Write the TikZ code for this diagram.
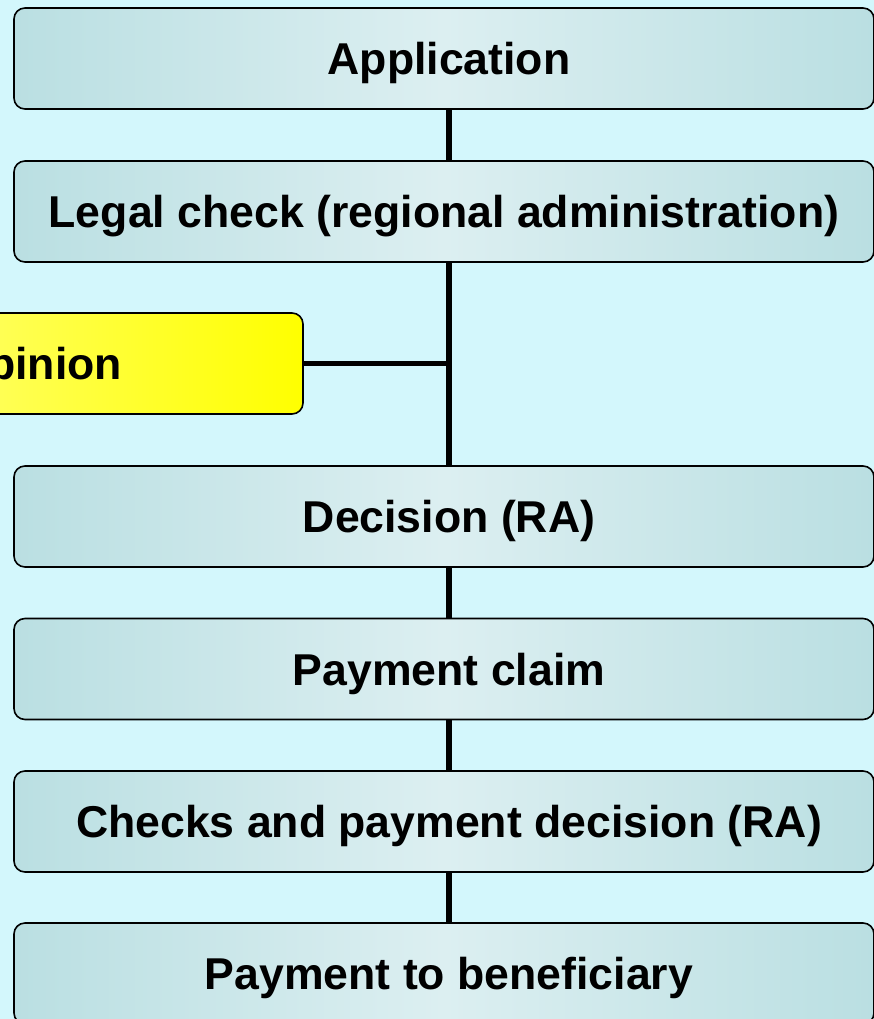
\documentclass[tikz,border=0pt]{standalone}
\usepackage{fontspec}
\setmainfont{Liberation Sans}
\usepackage{xcolor}
\usetikzlibrary{positioning}

\definecolor{bgcyan}{HTML}{D3F7FC}
\definecolor{boxedge}{HTML}{BADFE2}
\definecolor{boxmid}{HTML}{DCEFF1}
\definecolor{opinlight}{HTML}{FFFF90}
\definecolor{opinyellow}{HTML}{FFFF00}

\begin{document}
\begin{tikzpicture}[
  x=1pt, y=-1pt,
  every node/.style={font=\fontsize{44.6}{50}\selectfont\bfseries,
    text height=32pt, text depth=0pt},
  stage/.style={rectangle, draw, line width=1.6pt, rounded corners=11pt,
    left color=boxedge, right color=boxedge, middle color=boxmid,
    minimum width=860pt, minimum height=101pt, inner sep=0pt},
  opinbox/.style={rectangle, draw, line width=1.6pt, rounded corners=11pt,
    left color=opinlight, right color=opinyellow,
    minimum width=523pt, minimum height=101pt, inner sep=0pt},
  link/.style={line width=6pt}
]
  \useasboundingbox (0,0) rectangle (874,1019);
  \clip (0,0) rectangle (874,1019);
  \fill[bgcyan] (0,0) rectangle (874,1019);

  % stages
  \node[stage] (appl) at (444,58.5) {\hspace*{10pt}Application};
  \node[stage] (legal) at (444,211.5) {Legal check (regional administration)};
  \node[opinbox] (opin) at (41.5,363.5) {opinion};
  \node[stage] (decis) at (444,516.5) {\hspace*{10pt}Decision (RA)};
  \node[stage] (claim) at (444,669) {\hspace*{10pt}Payment claim};
  \node[stage] (check) at (444,821.5) {\hspace*{10pt}Checks and payment decision (RA)};
  \node[stage] (benef) at (444,973.5) {\hspace*{10pt}Payment to beneficiary};

  \coordinate (junc) at (449,363.5);

  % connectors
  \draw[link] (appl.south -| junc) -- (legal.north -| junc);
  \draw[link] (legal.south -| junc) -- (decis.north -| junc);
  \draw[link, line width=5pt] (opin.east) -- (junc);
  \draw[link] (decis.south -| junc) -- (claim.north -| junc);
  \draw[link] (claim.south -| junc) -- (check.north -| junc);
  \draw[link] (check.south -| junc) -- (benef.north -| junc);
\end{tikzpicture}
\end{document}
